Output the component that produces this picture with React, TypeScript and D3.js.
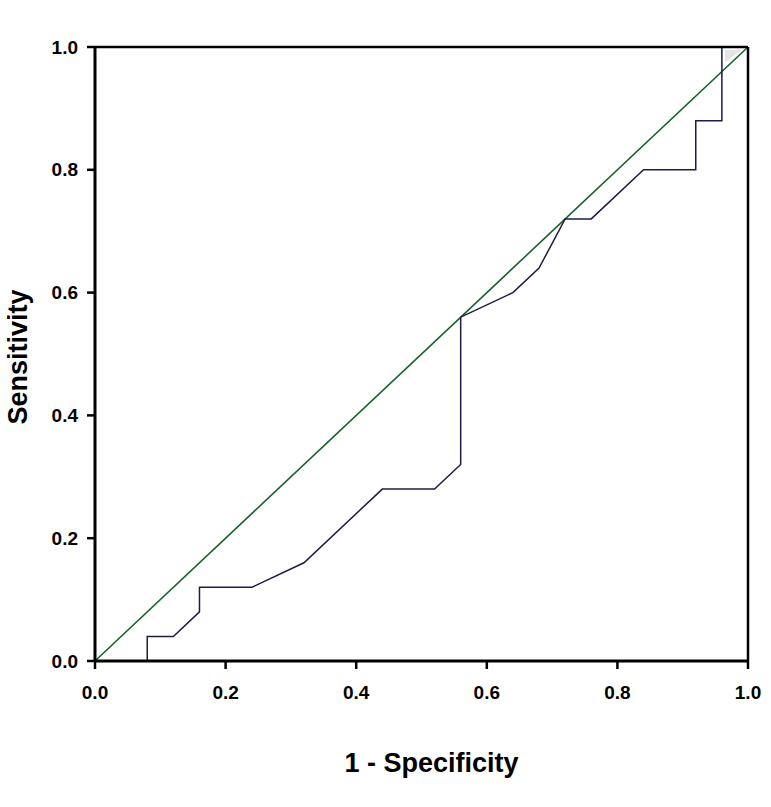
import React from 'react';
import { scaleLinear, line, range } from 'd3';

// ROC curve points
const fpr = [0.08, 0.08, 0.12, 0.16, 0.16, 0.24, 0.32, 0.44, 0.52, 0.56, 0.56, 0.64, 0.68, 0.72, 0.76, 0.84, 0.92, 0.92, 0.96, 0.96, 1.0];
const tpr = [0.0, 0.04, 0.04, 0.08, 0.12, 0.12, 0.16, 0.28, 0.28, 0.32, 0.56, 0.60, 0.64, 0.72, 0.72, 0.80, 0.80, 0.88, 0.88, 1.0, 1.0];
const refX = [0, 1];
const refY = [0, 1];
const tickVals = [0, 0.2, 0.4, 0.6, 0.8, 1.0];
const xTitle = '1 - Specificity';
const yTitle = 'Sensitivity';

const width = 771;
const height = 807;
const margin = { top: 47, right: 23, bottom: 146, left: 95 };
const font = '"Liberation Sans", Arial, sans-serif';

export default function App() {
  const innerW = width - margin.left - margin.right;
  const innerH = height - margin.top - margin.bottom;

  const x = scaleLinear().domain([0, 1]).range([0, innerW]);
  const y = scaleLinear().domain([0, 1]).range([innerH, 0]);

  const path = line<number>().x(i => x(fpr[i])).y(i => y(tpr[i]));
  const diag = line<number>().x(i => x(refX[i])).y(i => y(refY[i]));

  return (
    <svg width={width} height={height} style={{ position: 'absolute', left: 0, top: 0, background: '#fff' }}>
      <g transform={`translate(${margin.left},${margin.top})`}>
        {/* faint shaded sliver in the top corner */}
        <path d={`M${x(0.965)},${y(0.995)}L${x(0.99)},${y(0.995)}L${x(0.965)},${y(0.975)}Z`} fill="#e4e4e4" />

        <path d={diag(range(refX.length)) || ''} fill="none" stroke="#17612c" strokeWidth={1.6} />
        <path d={path(range(fpr.length)) || ''} fill="none" stroke="#1c1c45" strokeWidth={1.5} />

        {/* frame */}
        <line x1={0} x2={innerW} y1={0} y2={0} stroke="#000" strokeWidth={2.5} />
        <line x1={innerW} x2={innerW} y1={0} y2={innerH} stroke="#000" strokeWidth={2.5} />
        <line x1={0} x2={innerW} y1={innerH} y2={innerH} stroke="#000" strokeWidth={3} />
        <line x1={0} x2={0} y1={0} y2={innerH} stroke="#000" strokeWidth={3} />

        {tickVals.map(t => (
          <g key={'x' + t} transform={`translate(${x(t)},${innerH})`}>
            <line y1={0} y2={8} stroke="#000" strokeWidth={2.5} />
            <text y={38} textAnchor="middle" fontFamily={font} fontWeight="bold" fontSize={19}>{t.toFixed(1)}</text>
          </g>
        ))}
        {tickVals.map(t => (
          <g key={'y' + t} transform={`translate(0,${y(t)})`}>
            <line x1={0} x2={-8} stroke="#000" strokeWidth={2.5} />
            <text x={-17} dy="0.35em" textAnchor="end" fontFamily={font} fontWeight="bold" fontSize={19}>{t.toFixed(1)}</text>
          </g>
        ))}

        <text x={innerW / 2 + 10} y={innerH + 111} textAnchor="middle" fontFamily={font} fontWeight="bold" fontSize={27}>{xTitle}</text>
        <text transform={`translate(${-68},${innerH / 2 + 3}) rotate(-90)`} textAnchor="middle" fontFamily={font} fontWeight="bold" fontSize={27}>{yTitle}</text>
      </g>
    </svg>
  );
}
